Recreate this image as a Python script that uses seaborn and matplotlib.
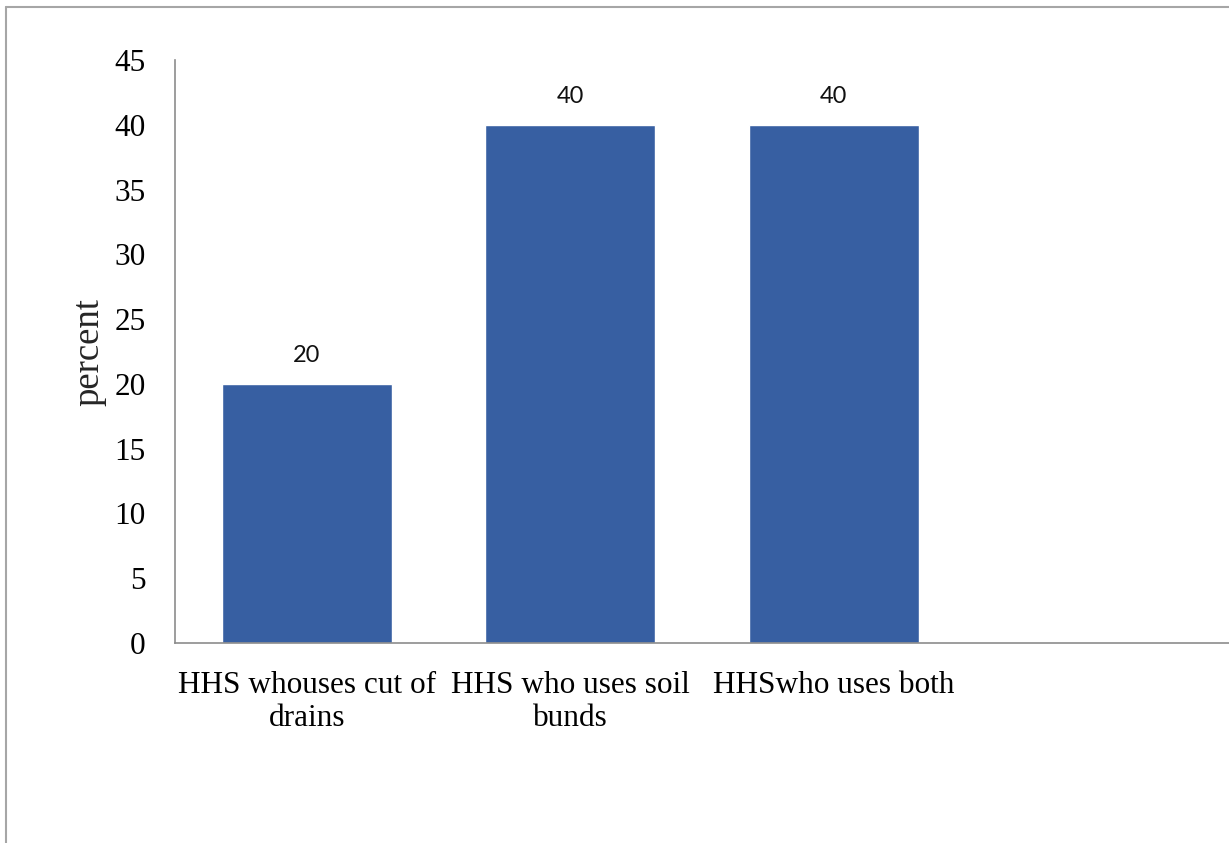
import matplotlib.pyplot as plt
import matplotlib.lines as mlines
import seaborn as sns
import pandas as pd

# Data
categories = ["HHS whouses cut of\ndrains", "HHS who uses soil\nbunds", "HHSwho uses both"]
percent = [20, 40, 40]
yticks = [0, 5, 10, 15, 20, 25, 30, 35, 40, 45]

dataframe = pd.DataFrame({"category": categories, "percent": percent})

# Plot
sns.set_style("white")
plt.rcParams['font.family'] = ['Liberation Serif', 'DejaVu Serif']

fig = plt.figure(figsize=(12.29, 8.43), dpi=100)
ax = fig.add_axes([175 / 1229, 1 - 643 / 843, 1 - 175 / 1229, (643 - 60) / 843])

sns.barplot(data=dataframe, x="category", y="percent", color="#375FA2",
            width=0.645, saturation=1, ax=ax)

ax.bar_label(ax.containers[0], labels=[str(v) for v in percent], padding=13,
             fontsize=17, family="Lato", color="#111111")

ax.set_xlim(-0.5, 3.5)
ax.set_ylim(0, 45)
ax.set_yticks(yticks)
ax.tick_params(axis='both', length=0, labelsize=22.5, colors="black")
ax.tick_params(axis='y', pad=21)
ax.tick_params(axis='x', pad=20)
ax.set_xlabel("")
ax.set_ylabel("percent", fontsize=26.5, labelpad=6)

# Spines like the original
for side in ["top", "right"]:
    ax.spines[side].set_visible(False)
for side in ["left", "bottom"]:
    ax.spines[side].set_color("#8c8c8c")
    ax.spines[side].set_linewidth(1.2)

# Outer chart frame (top and left edges only)
fig.add_artist(mlines.Line2D([6 / 1229, 1.0], [1 - 7 / 843, 1 - 7 / 843],
                             color="#a6a6a6", lw=1.5, transform=fig.transFigure))
fig.add_artist(mlines.Line2D([6 / 1229, 6 / 1229], [0, 1 - 7 / 843],
                             color="#a6a6a6", lw=1.5, transform=fig.transFigure))

plt.savefig("out.png", dpi=100)
